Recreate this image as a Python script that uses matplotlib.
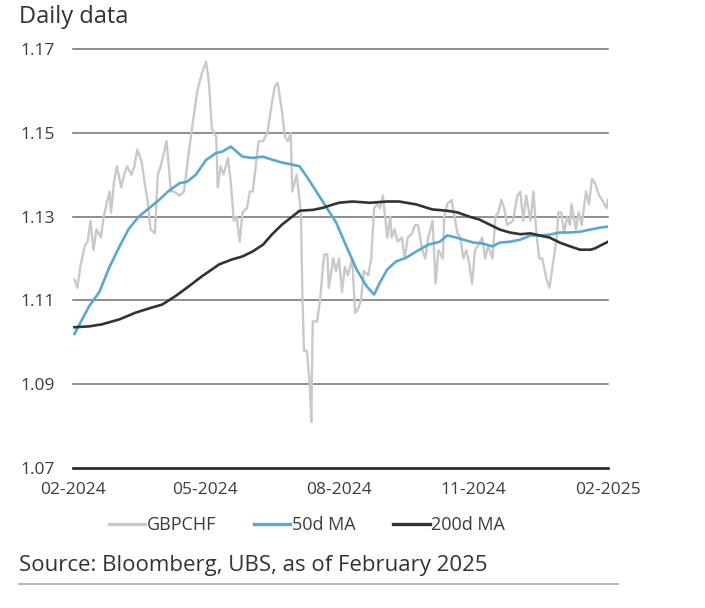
import matplotlib
matplotlib.use("Agg")
import matplotlib.pyplot as plt
from matplotlib.lines import Line2D
import pandas as pd

# ---------------- data ----------------
spot_dates = [
    "2024-02-02", "2024-02-04", "2024-02-06", "2024-02-09", "2024-02-11", "2024-02-13",
    "2024-02-15", "2024-02-17", "2024-02-20", "2024-02-22", "2024-02-26", "2024-02-27",
    "2024-02-29", "2024-03-02", "2024-03-05", "2024-03-07", "2024-03-09", "2024-03-12",
    "2024-03-14", "2024-03-16", "2024-03-19", "2024-03-21", "2024-03-23", "2024-03-25",
    "2024-03-28", "2024-03-30", "2024-04-01", "2024-04-03", "2024-04-05", "2024-04-08",
    "2024-04-10", "2024-04-14", "2024-04-17", "2024-04-19", "2024-04-22", "2024-04-24",
    "2024-04-26", "2024-04-29", "2024-05-01", "2024-05-02", "2024-05-04", "2024-05-06",
    "2024-05-09", "2024-05-10", "2024-05-12", "2024-05-14", "2024-05-17", "2024-05-19",
    "2024-05-21", "2024-05-23", "2024-05-25", "2024-05-27", "2024-05-30", "2024-06-01",
    "2024-06-03", "2024-06-05", "2024-06-07", "2024-06-10", "2024-06-13", "2024-06-16",
    "2024-06-18", "2024-06-20", "2024-06-23", "2024-06-25", "2024-06-27", "2024-06-29",
    "2024-06-30", "2024-07-03", "2024-07-05", "2024-07-06", "2024-07-07", "2024-07-08",
    "2024-07-10", "2024-07-12", "2024-07-13", "2024-07-14", "2024-07-17", "2024-07-19",
    "2024-07-21", "2024-07-22", "2024-07-24", "2024-07-25", "2024-07-28", "2024-07-30",
    "2024-08-01", "2024-08-03", "2024-08-05", "2024-08-07", "2024-08-10", "2024-08-12",
    "2024-08-14", "2024-08-16", "2024-08-18", "2024-08-21", "2024-08-23", "2024-08-25",
    "2024-08-27", "2024-08-29", "2024-08-31", "2024-09-03", "2024-09-05", "2024-09-06",
    "2024-09-08", "2024-09-10", "2024-09-13", "2024-09-15", "2024-09-17", "2024-09-20",
    "2024-09-22", "2024-09-24", "2024-09-27", "2024-09-29", "2024-10-01", "2024-10-04",
    "2024-10-06", "2024-10-08", "2024-10-11", "2024-10-12", "2024-10-14", "2024-10-17",
    "2024-10-21", "2024-10-23", "2024-10-25", "2024-10-27", "2024-10-29", "2024-10-31",
    "2024-11-02", "2024-11-04", "2024-11-07", "2024-11-09", "2024-11-11", "2024-11-14",
    "2024-11-16", "2024-11-18", "2024-11-20", "2024-11-22", "2024-11-24", "2024-11-28",
    "2024-12-01", "2024-12-03", "2024-12-05", "2024-12-07", "2024-12-10", "2024-12-12",
    "2024-12-14", "2024-12-16", "2024-12-18", "2024-12-21", "2024-12-23", "2024-12-25",
    "2024-12-28", "2024-12-29", "2024-12-31", "2025-01-02", "2025-01-04", "2025-01-06",
    "2025-01-07", "2025-01-10", "2025-01-12", "2025-01-14", "2025-01-17", "2025-01-19",
    "2025-01-21", "2025-01-23", "2025-01-26", "2025-01-28", "2025-01-31", "2025-02-01",
]
spot_values = [
    1.115, 1.113, 1.118, 1.123, 1.124, 1.129,
    1.122, 1.127, 1.125, 1.130, 1.136, 1.131,
    1.138, 1.142, 1.137, 1.140, 1.142, 1.140,
    1.142, 1.146, 1.143, 1.138, 1.134, 1.127,
    1.126, 1.140, 1.142, 1.145, 1.148, 1.136,
    1.136, 1.135, 1.136, 1.142, 1.150, 1.155,
    1.160, 1.164, 1.166, 1.167, 1.162, 1.151,
    1.149, 1.137, 1.142, 1.140, 1.144, 1.138,
    1.129, 1.130, 1.124, 1.131, 1.132, 1.136,
    1.136, 1.142, 1.148, 1.148, 1.150, 1.157,
    1.161, 1.162, 1.155, 1.149, 1.148, 1.150,
    1.136, 1.140, 1.134, 1.130, 1.110, 1.098,
    1.098, 1.090, 1.081, 1.105, 1.105, 1.110,
    1.118, 1.121, 1.121, 1.113, 1.120, 1.117,
    1.120, 1.112, 1.118, 1.116, 1.120, 1.107,
    1.108, 1.110, 1.117, 1.116, 1.120, 1.132,
    1.133, 1.132, 1.135, 1.125, 1.130, 1.125,
    1.127, 1.124, 1.125, 1.120, 1.125, 1.126,
    1.128, 1.128, 1.122, 1.120, 1.125, 1.129,
    1.114, 1.122, 1.120, 1.130, 1.133, 1.134,
    1.126, 1.125, 1.120, 1.122, 1.119, 1.114,
    1.122, 1.123, 1.125, 1.120, 1.123, 1.120,
    1.130, 1.131, 1.134, 1.132, 1.128, 1.129,
    1.135, 1.136, 1.129, 1.135, 1.129, 1.136,
    1.126, 1.120, 1.120, 1.115, 1.113, 1.118,
    1.125, 1.131, 1.131, 1.126, 1.130, 1.128,
    1.133, 1.127, 1.131, 1.128, 1.136, 1.133,
    1.139, 1.138, 1.135, 1.134, 1.132, 1.134,
]

ma50_dates = [
    "2024-02-02", "2024-02-12", "2024-02-19", "2024-02-26", "2024-03-04", "2024-03-10",
    "2024-03-17", "2024-03-24", "2024-03-31", "2024-04-06", "2024-04-14", "2024-04-19",
    "2024-04-25", "2024-05-02", "2024-05-09", "2024-05-13", "2024-05-19", "2024-05-23",
    "2024-05-27", "2024-06-03", "2024-06-10", "2024-06-16", "2024-06-23", "2024-06-30",
    "2024-07-05", "2024-07-10", "2024-07-17", "2024-07-23", "2024-07-30", "2024-08-06",
    "2024-08-13", "2024-08-20", "2024-08-25", "2024-08-29", "2024-09-03", "2024-09-09",
    "2024-09-16", "2024-09-23", "2024-10-01", "2024-10-09", "2024-10-14", "2024-10-18",
    "2024-10-25", "2024-11-01", "2024-11-07", "2024-11-14", "2024-11-19", "2024-11-26",
    "2024-12-03", "2024-12-10", "2024-12-16", "2024-12-23", "2024-12-30", "2025-01-06",
    "2025-01-13", "2025-01-20", "2025-01-27", "2025-02-01",
]
ma50_values = [
    1.1020, 1.1086, 1.1120, 1.1180, 1.1230, 1.1270,
    1.1300, 1.1320, 1.1340, 1.1360, 1.1380, 1.1383,
    1.1400, 1.1435, 1.1452, 1.1455, 1.1467, 1.1455,
    1.1443, 1.1440, 1.1443, 1.1436, 1.1429, 1.1424,
    1.1420, 1.1395, 1.1357, 1.1324, 1.1286, 1.1229,
    1.1174, 1.1133, 1.1114, 1.1143, 1.1174, 1.1193,
    1.1202, 1.1217, 1.1233, 1.1240, 1.1255, 1.1252,
    1.1245, 1.1238, 1.1236, 1.1229, 1.1238, 1.1240,
    1.1245, 1.1255, 1.1255, 1.1257, 1.1262, 1.1262,
    1.1264, 1.1269, 1.1274, 1.1276,
]

ma200_dates = [
    "2024-02-02", "2024-02-12", "2024-02-21", "2024-03-04", "2024-03-15", "2024-03-26",
    "2024-04-02", "2024-04-11", "2024-04-20", "2024-04-29", "2024-05-04", "2024-05-11",
    "2024-05-20", "2024-05-27", "2024-06-03", "2024-06-10", "2024-06-16", "2024-06-23",
    "2024-06-30", "2024-07-05", "2024-07-14", "2024-07-21", "2024-07-28", "2024-08-01",
    "2024-08-10", "2024-08-22", "2024-09-03", "2024-09-11", "2024-09-23", "2024-10-01",
    "2024-10-04", "2024-10-14", "2024-10-21", "2024-10-29", "2024-11-05", "2024-11-12",
    "2024-11-19", "2024-11-26", "2024-12-03", "2024-12-10", "2024-12-16", "2024-12-23",
    "2024-12-30", "2025-01-06", "2025-01-13", "2025-01-20", "2025-01-23", "2025-01-28",
    "2025-02-01",
]
ma200_values = [
    1.1036, 1.1038, 1.1043, 1.1055, 1.1071, 1.1083,
    1.1090, 1.1110, 1.1133, 1.1157, 1.1169, 1.1186,
    1.1198, 1.1205, 1.1217, 1.1233, 1.1257, 1.1281,
    1.1300, 1.1314, 1.1316, 1.1321, 1.1329, 1.1333,
    1.1336, 1.1333, 1.1336, 1.1336, 1.1329, 1.1320,
    1.1317, 1.1314, 1.1310, 1.1300, 1.1293, 1.1281,
    1.1269, 1.1262, 1.1258, 1.1260, 1.1255, 1.1250,
    1.1238, 1.1229, 1.1221, 1.1221, 1.1224, 1.1233,
    1.1240,
]

series_labels = ["GBPCHF", "50d MA", "200d MA"]
y_ticks = [1.07, 1.09, 1.11, 1.13, 1.15, 1.17]
x_tick_dates = ["2024-02-01", "2024-05-01", "2024-08-01", "2024-11-01", "2025-02-01"]
x_tick_labels = ["02-2024", "05-2024", "08-2024", "11-2024", "02-2025"]
title_text = "Daily data"
source_text = "Source: Bloomberg, UBS, as of February 2025"

# ---------------- styling ----------------
FONT = ["Open Sans", "DejaVu Sans"]
plt.rcParams["font.family"] = FONT
C_SPOT = "#c9c9c9"
C_MA50 = "#5aa8cc"
C_MA200 = "#333333"
C_TEXT = "#3c3c3c"

fig = plt.figure(figsize=(7.05, 6.08), dpi=100)
ax = fig.add_axes([73 / 705, 1 - 468 / 608, 535 / 705, (468 - 49) / 608])

ax.plot(pd.to_datetime(spot_dates), spot_values, color=C_SPOT, lw=1.7, zorder=3)
ax.plot(pd.to_datetime(ma50_dates), ma50_values, color=C_MA50, lw=1.9, zorder=4)
ax.plot(pd.to_datetime(ma200_dates), ma200_values, color=C_MA200, lw=1.9, zorder=5)

ax.set_ylim(y_ticks[0], y_ticks[-1])
ax.set_xlim(pd.Timestamp(x_tick_dates[0]), pd.Timestamp(x_tick_dates[-1]))
ax.set_yticks(y_ticks)
ax.set_yticklabels([f"{v:.2f}" for v in y_ticks])
ax.set_xticks(pd.to_datetime(x_tick_dates))
ax.set_xticklabels(x_tick_labels)

for v in y_ticks[1:]:
    ax.axhline(v, color="#707070", lw=1.1, zorder=1, clip_on=False)
ax.axhline(y_ticks[0], color="#222222", lw=1.9, zorder=2, clip_on=False)

for s in ax.spines.values():
    s.set_visible(False)
ax.tick_params(axis="both", length=0, labelsize=12.5, labelcolor=C_TEXT)
ax.tick_params(axis="y", pad=13)
ax.tick_params(axis="x", pad=10)

fig.text(19 / 705, 1 - 17 / 608, title_text, fontsize=17, color="#333333",
         ha="left", va="center")

handles = [
    Line2D([], [], color=C_SPOT, lw=2.4),
    Line2D([], [], color=C_MA50, lw=2.4),
    Line2D([], [], color=C_MA200, lw=2.4),
]
fig.legend(handles, series_labels, loc="center", bbox_to_anchor=(307 / 705, 1 - 525 / 608),
           ncol=3, frameon=False, fontsize=13, handlelength=2.0, handletextpad=0.1,
           columnspacing=2.1, labelcolor=C_TEXT)

fig.text(19 / 705, 1 - 565 / 608, source_text, fontsize=16, color="#333333",
         ha="left", va="center")
fig.add_artist(Line2D([19 / 705, 618 / 705], [1 - 584 / 608, 1 - 584 / 608],
                      color="#aaaaaa", lw=1.2, transform=fig.transFigure))

fig.savefig("out.png", dpi=100)
